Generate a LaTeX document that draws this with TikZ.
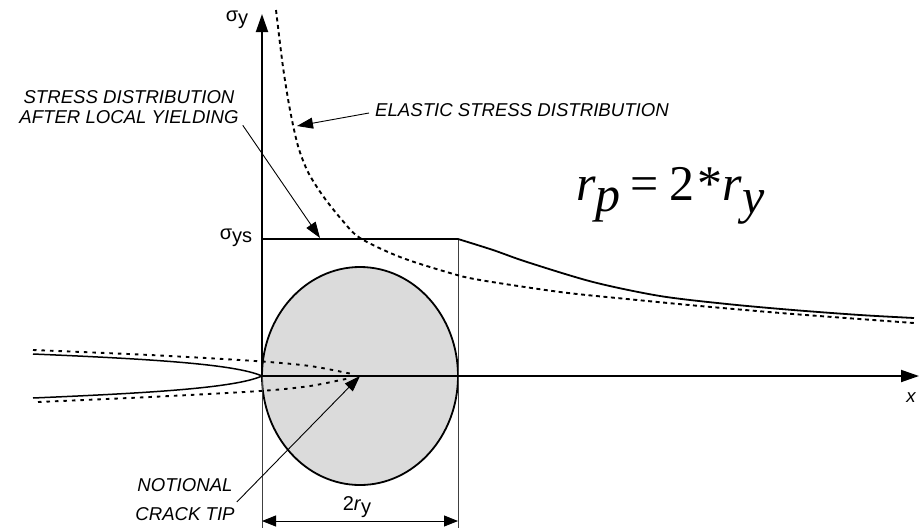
\documentclass[tikz,border=0pt]{standalone}
\usepackage{fontspec}
\setmainfont{Liberation Sans}
\newfontfamily\timesf{Liberation Serif}
\usetikzlibrary{arrows.meta}
\begin{document}
\begin{tikzpicture}[x=1pt,y=-1pt,
  curve/.style={line width=1.8pt},
  fine/.style={line width=0.8pt, black!75},
  dashedcurve/.style={line width=1.9pt, dash pattern=on 4pt off 3.5pt},
  dottedcrack/.style={line width=1.9pt, dash pattern=on 3.5pt off 5pt},
  leader/.style={line width=0.9pt, -{Triangle[length=16pt,width=11pt]}},
  axisarrow/.style={line width=1.9pt, -{Triangle[length=18pt,width=12pt]}},
  dimarrow/.style={line width=0.9pt, {Triangle[length=14pt,width=11pt]}-{Triangle[length=14pt,width=11pt]}},
  lbl/.style={font=\fontsize{18.6}{20}\selectfont\itshape, inner sep=0pt},
  lblwide/.style={font=\fontsize{18.6}{29}\selectfont\itshape, inner sep=0pt},
  sym/.style={font=\fontsize{20}{22}\selectfont, inner sep=0pt}
]
\useasboundingbox (0,0) rectangle (924,528);

% key points
\coordinate (O) at (262,376);
\coordinate (ytop) at (262,14);
\coordinate (ybot) at (262,528);
\coordinate (xend) at (919,376);
\coordinate (C) at (360,376);
\coordinate (S) at (262,239);
\coordinate (P) at (458,239);
\coordinate (Pb) at (458,528);
\coordinate (dl) at (262,521);
\coordinate (dr) at (458,521);
\coordinate (sdtip) at (320,238);
\coordinate (eltip) at (297,126);

% plastic zone
\draw[curve, fill=black!14] (C) ellipse [x radius=98pt, y radius=109pt];

% thin guide lines
\draw[fine] (O) -- (ybot);
\draw[fine] (P) -- (Pb);

% crack faces (solid)
\draw[line width=1.5pt] (33,354) .. controls (150,359) and (235,364) .. (O);
\draw[line width=1.5pt] (33,398) .. controls (150,393) and (235,388) .. (O);
% notional crack (dotted)
\draw[dottedcrack] plot[smooth] coordinates {(33,350) (150,355) (255,361) (310,366) (352,374)};
\draw[dottedcrack] plot[smooth] coordinates {(38,402) (150,397) (260,391) (310,386) (350,378)};

% axes
\draw[axisarrow] (O) -- (ytop);
\draw[axisarrow] (O) -- (xend);

% yield plateau
\draw[curve] (S) -- (P);
% stress after yielding
\draw[curve] plot[smooth] coordinates {(458,239) (493,250) (527,262) (593,282) (660,296) (727,304) (793,310) (860,315) (914,318)};
% elastic stress
\draw[dashedcurve] plot[smooth] coordinates {(276,10) (283,67) (290,110) (298,146) (308,172) (323,196) (342,220) (360,238) (400,257) (450,273) (480,280) (560,292) (627,299) (700,306) (793,314) (914,323)};

% dimension
\draw[dimarrow] (dl) -- (dr);
\node[sym] (dimlbl) at (357,507) {2\textit{r}\raisebox{-3pt}{y}};

% axis labels
\node[sym] (sy) at (237,20) {σ\raisebox{-2.5pt}{y}};
\node[sym] (sys) at (236,238) {σ\raisebox{-2.5pt}{ys}};
\node[lbl] (xl) at (911,398) {x};

% annotations
\node[lbl, align=center] (sdist) at (129,107.5) {STRESS DISTRIBUTION\\AFTER LOCAL YIELDING};
\draw[leader] ([xshift=4pt,yshift=-1pt]sdist.south east) -- (sdtip);
\node[lbl, anchor=west] (el) at (375,110) {ELASTIC STRESS DISTRIBUTION};
\draw[leader] ([xshift=-6pt,yshift=-3pt]el.west) -- (eltip);
\node[lblwide, align=center] (nct) at (185,500) {NOTIONAL\\CRACK TIP};
\draw[leader] ([xshift=2pt,yshift=-2pt]nct.east) -- (C);

% equation
\node[anchor=base west, inner sep=0pt] (eq) at (576,200)
  {\timesf\fontsize{50}{54}\selectfont\itshape r\raisebox{-11pt}{p}\hspace{10pt}\upshape=\hspace{11pt}2\hspace{3pt}*\itshape r\raisebox{-13pt}{y}};
\end{tikzpicture}
\end{document}
